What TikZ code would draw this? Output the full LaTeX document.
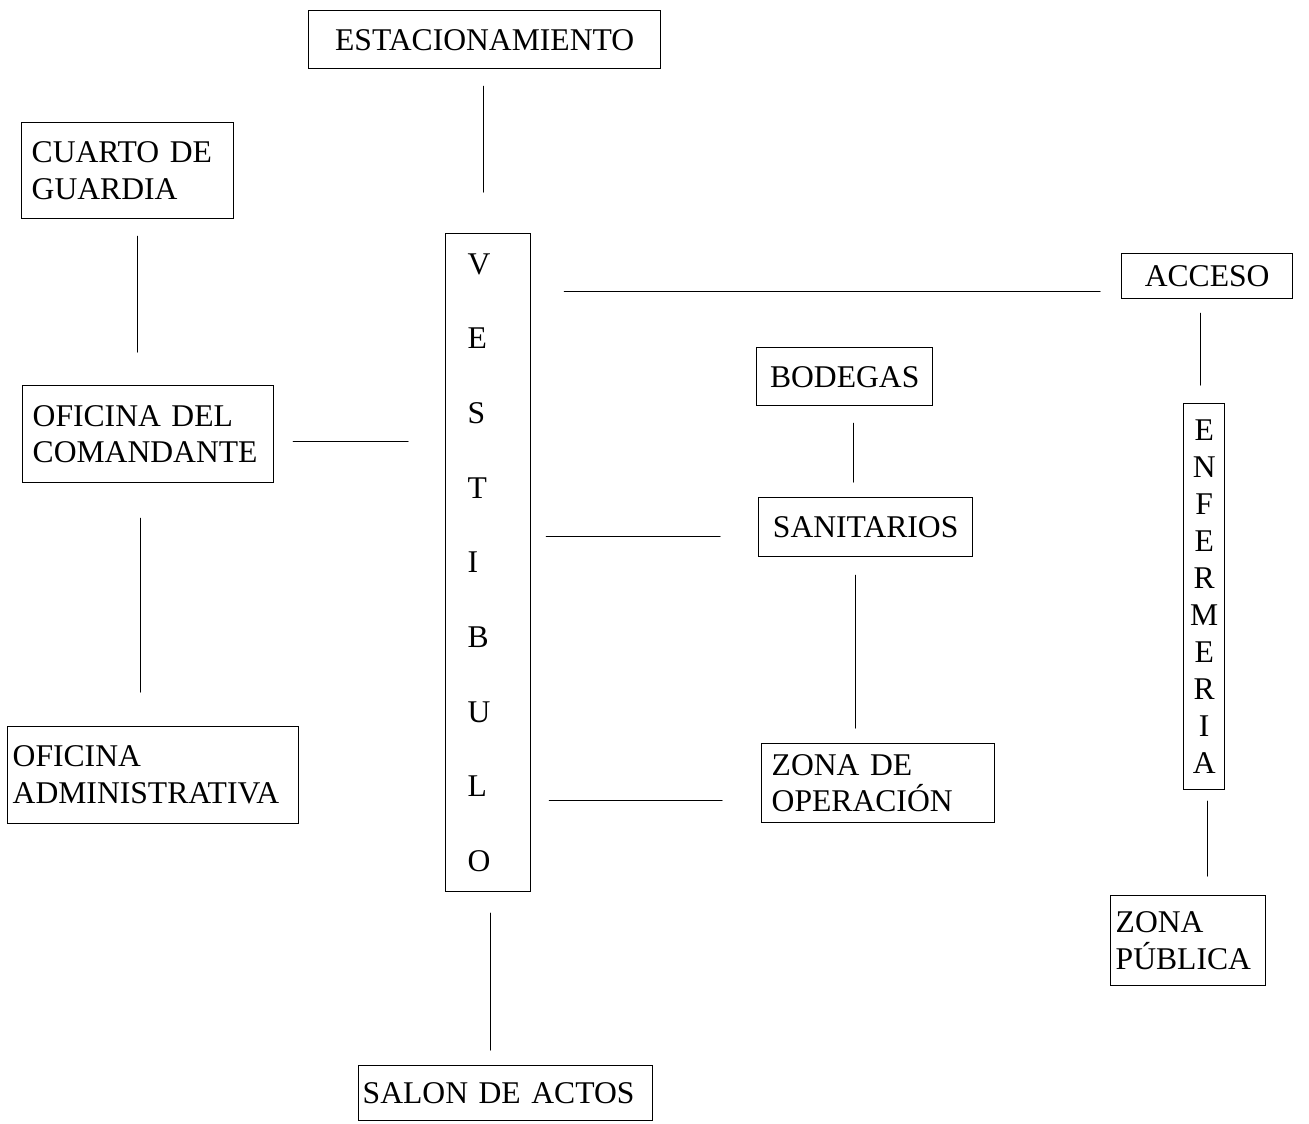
\documentclass[tikz,border=0pt]{standalone}
\usepackage{fontspec}
\setmainfont{Liberation Serif}
\usepackage{tikz}
\usetikzlibrary{calc}
\tikzset{
    room/.style={draw, anchor=north west, line width=0.8pt, inner xsep=0.2cm, inner ysep=0pt,
      font=\fontsize{18}{21}\selectfont},
    roomleft/.style={room, align=left},
    roomcenter/.style={room, align=center},
    link/.style={line width=0.8pt, line cap=round}
}
\begin{document}
\begin{tikzpicture}[x=0.02cm, y=-0.02cm]
  \useasboundingbox (0,0) rectangle (1309,1123);
  % espacios
  \node[roomcenter, text width=6.64cm, minimum height=1.16cm] (estac) at (308,10) {ESTACIONAMIENTO};
  \node[roomleft, text width=3.84cm, minimum height=1.92cm] (cuarto) at (21,122) {CUARTO DE\\GUARDIA};
  \node[roomleft, text width=4.62cm, minimum height=1.94cm] (comand) at (22,385) {OFICINA DEL\\COMANDANTE};
  \node[roomleft, inner xsep=0.1cm, text width=5.62cm, minimum height=1.94cm] (admin) at (7,726)
    {OFICINA\\ADMINISTRATIVA};
  \node[roomleft, inner xsep=0.44cm, text width=0.82cm, minimum height=13.16cm,
    font=\fontsize{18}{42.5}\selectfont] (vest) at (445,233) {V\\E\\S\\T\\I\\B\\U\\L\\O};
  \node[roomcenter, text width=3.02cm, minimum height=0.9cm] (acceso) at (1121,253) {ACCESO};
  \node[roomcenter, text width=3.12cm, minimum height=1.16cm] (bodegas) at (756,347) {BODEGAS};
  \node[roomcenter, text width=3.88cm, minimum height=1.18cm] (sanit) at (758,497) {SANITARIOS};
  \node[roomleft, text width=4.26cm, minimum height=1.58cm] (zonaop) at (761,743) {ZONA DE\\OPERACIÓN};
  \node[roomcenter, inner xsep=0pt, text width=0.82cm, minimum height=7.72cm] (enferm) at (1183,403)
    {E\\N\\F\\E\\R\\M\\E\\R\\I\\A};
  \node[roomleft, inner xsep=0.1cm, text width=2.9cm, minimum height=1.8cm] (zonapub) at (1110,895)
    {ZONA\\PÚBLICA};
  \node[roomleft, inner xsep=0.08cm, text width=5.72cm, minimum height=1.1cm] (salon) at (358,1065)
    {SALON DE ACTOS};
  % relaciones
  \draw[link, shorten <=0.34cm, shorten >=0.82cm] ([xshift=-0.02cm]estac.south) -- ([xshift=-0.02cm]estac.south |- vest.north);
  \draw[link, shorten <=0.34cm, shorten >=0.66cm] ([xshift=0.2cm]cuarto.south) -- ([xshift=0.2cm]cuarto.south |- comand.north);
  \draw[link, shorten <=0.38cm, shorten >=0.74cm] ([yshift=-0.15cm]comand.east) -- ([yshift=-0.15cm]comand.east -| vest.west);
  \draw[link, shorten <=0.7cm, shorten >=0.68cm] ([xshift=-0.15cm]comand.south) -- ([xshift=-0.15cm]comand.south |- admin.north);
  \draw[link, shorten <=0.42cm, shorten >=0.66cm] ([yshift=-0.31cm]acceso.west) -- ([yshift=-0.31cm]acceso.west -| vest.east);
  \draw[link, shorten <=0.76cm, shorten >=0.3cm] ([yshift=-0.19cm]sanit.west) -- ([yshift=-0.19cm]sanit.west -| vest.east);
  \draw[link, shorten <=0.78cm, shorten >=0.36cm] ([yshift=-0.35cm]zonaop.west) -- ([yshift=-0.35cm]zonaop.west -| vest.east);
  \draw[link, shorten <=0.34cm, shorten >=0.3cm] ([xshift=0.18cm]bodegas.south) -- ([xshift=0.18cm]bodegas.south |- sanit.north);
  \draw[link, shorten <=0.36cm, shorten >=0.3cm] ([xshift=-0.2cm]sanit.south) -- ([xshift=-0.2cm]sanit.south |- zonaop.north);
  \draw[link, shorten <=0.28cm, shorten >=0.36cm] ([xshift=-0.13cm]acceso.south) -- ([xshift=-0.13cm]acceso.south |- enferm.north);
  \draw[link, shorten <=0.22cm, shorten >=0.38cm] ([xshift=0.07cm]enferm.south) -- ([xshift=0.07cm]enferm.south |- zonapub.north);
  \draw[link, shorten <=0.42cm, shorten >=0.3cm] ([xshift=0.05cm]vest.south) -- ([xshift=0.05cm]vest.south |- salon.north);
\end{tikzpicture}
\end{document}
